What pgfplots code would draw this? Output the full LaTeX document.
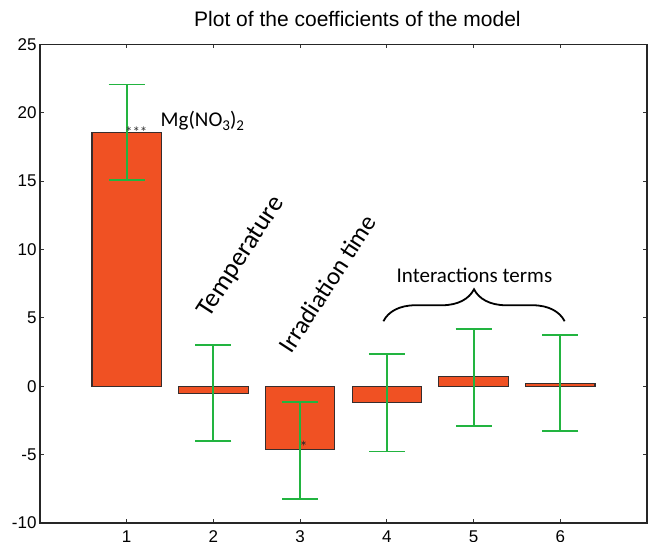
\documentclass[border=0pt]{standalone}
\usepackage{pgfplots}
\pgfplotsset{compat=1.18}
\usepackage{pgfplotstable}
\usepackage{fontspec}
\setmainfont{Liberation Sans}
\newfontfamily\calib{Carlito}
\usetikzlibrary{calc,decorations.pathreplacing}
\definecolor{barfill}{RGB}{240,81,35}
\definecolor{baredge}{RGB}{55,45,45}
\definecolor{errgreen}{RGB}{34,180,64}

\pgfplotstableread{
x y ep em
1 18.58 3.48 3.50
2 -0.55 3.55 3.45
3 -4.65 3.50 3.60
4 -1.17 3.50 3.60
5 0.68 3.48 3.60
6 0.20 3.55 3.50
}\coef

\begin{document}
\begin{tikzpicture}
\begin{axis}[
  name=ax,
  scale only axis,
  width=607pt, height=478.7pt,
  xmin=0, xmax=7,
  ymin=-10, ymax=25,
  xtick={1,2,3,4,5,6},
  ytick={-10,-5,0,5,10,15,20,25},
  tick align=inside,
  major tick length=4pt,
  axis line style={line width=1.3pt, black!85},
  tick style={line width=0.8pt, black!80},
  /pgf/number format/assume math mode=true,
  ticklabel style={font=\fontsize{17}{20}\selectfont},
  xticklabel style={yshift=-4pt},
  title={Plot of the coefficients of the model},
  title style={at={(0.523,1)}, anchor=base, yshift=12pt, font=\fontsize{21}{24}\selectfont},
  clip=false,
]
\addplot[ybar, bar width=0.8, fill=barfill, draw=baredge, line width=1.1pt,
  error bars/.cd, y dir=both, y explicit,
  error bar style={line width=1.9pt, draw=errgreen, solid},
  error mark options={rotate=90, line width=1.9pt, draw=errgreen, solid, mark size=18pt}]
  table[x=x, y=y, y error plus=ep, y error minus=em] {\coef};

\node[anchor=base, inner sep=0, text=black!80, font=\calib\fontsize{15}{15}\selectfont] at (axis cs:1.11,18.2) {***};
\node[anchor=base, inner sep=0, text=black!85, font=\calib\fontsize{16}{16}\selectfont] at (axis cs:3.04,-4.85) {*};
\node[anchor=base west, inner sep=0, font=\calib\fontsize{21}{24}\selectfont] at (axis cs:1.39,19.0)
  {Mg(NO\raisebox{-4pt}{\fontsize{15}{15}\selectfont 3})\raisebox{-4pt}{\fontsize{15}{15}\selectfont 2}};
\node[anchor=base west, inner sep=0, rotate=57, font=\calib\fontsize{26.5}{28}\selectfont] at (axis cs:1.95,4.95) {Temperature};
\node[anchor=base west, inner sep=0, rotate=57, font=\calib\fontsize{25}{28}\selectfont] at (axis cs:2.9,2.3) {Irradiation time};
\node[anchor=base, inner sep=0, font=\calib\fontsize{21}{24}\selectfont] at (axis cs:5.01,7.62) {Interactions terms};
\draw[decorate, decoration={brace, amplitude=32pt}, line width=1.8pt] (axis cs:3.96,4.75) -- (axis cs:6.05,4.75);
\end{axis}
\pgfresetboundingbox
\useasboundingbox ($(ax.south west)+(-40pt,-19pt)$) rectangle ($(ax.north east)+(1pt,44.3pt)$);
\end{tikzpicture}
\end{document}
